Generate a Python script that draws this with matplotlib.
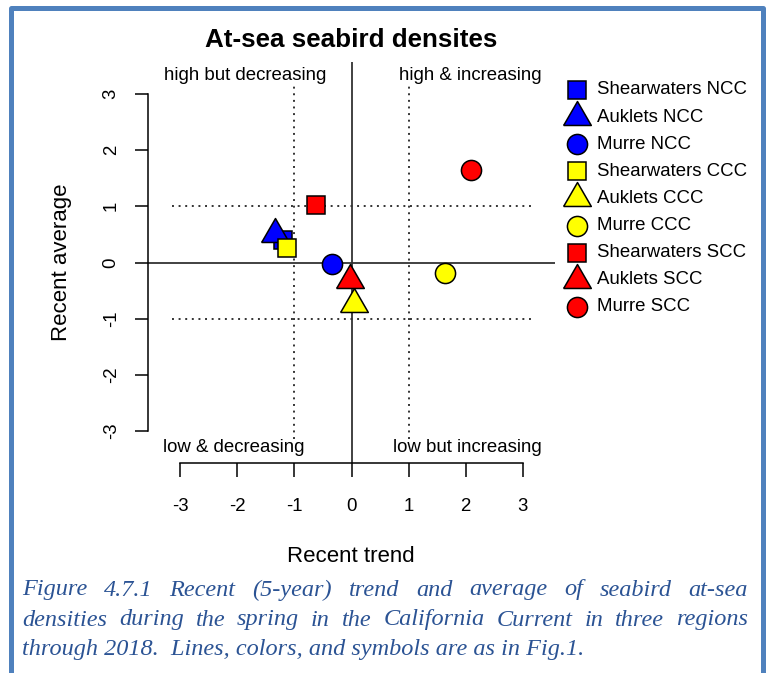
import matplotlib
matplotlib.use("Agg")
import matplotlib.pyplot as plt
from matplotlib.lines import Line2D

W, H = 770, 673
plt.rcParams['font.family'] = ['Liberation Sans', 'DejaVu Sans']

# recent trend (x) and recent average (y) for each group
labels = ['Shearwaters NCC', 'Auklets NCC', 'Murre NCC',
          'Shearwaters CCC', 'Auklets CCC', 'Murre CCC',
          'Shearwaters SCC', 'Auklets SCC', 'Murre SCC']
trend = [-1.20, -1.35, -0.34, -1.13, 0.05, 1.64, -0.63, -0.03, 2.09]
average = [0.40, 0.51, -0.02, 0.26, -0.74, -0.19, 1.02, -0.32, 1.65]
colors = ['blue'] * 3 + ['yellow'] * 3 + ['red'] * 3
shapes = ['square', 'triangle', 'circle'] * 3

ticks = [-3, -2, -1, 0, 1, 2, 3]
quadrants = [('high but decreasing', -1.86, 3.33),
             ('high & increasing', 2.09, 3.33),
             ('low & decreasing', -2.07, -3.30),
             ('low but increasing', 2.04, -3.30)]

caption = ["Figure 4.7.1 Recent (5-year) trend and average of seabird at-sea",
           "densities during the spring in the California Current in three regions",
           "through 2018.  Lines, colors, and symbols are as in Fig.1."]

# equilateral triangle like R's pch 24
tri = [(-1, -0.577), (1, -0.577), (0, 1.155), (-1, -0.577)]
marker_style = {'square': dict(marker='s', ms=13),
                'triangle': dict(marker=tri, ms=23),
                'circle': dict(marker='o', ms=14.5)}

fig = plt.figure(figsize=(W / 100, H / 100), dpi=100)
ax = fig.add_axes([148 / W, 1 - 463 / H, 407 / W, 401 / H])
ax.set_xlim(-3.57, 3.57)
ax.set_ylim(-3.57, 3.57)

# reference lines
ax.axhline(0, color='#333333', lw=1.3, zorder=1)
ax.axvline(0, color='#333333', lw=1.3, zorder=1)
dots = (0, (1, 2.4))
for v in (-1, 1):
    ax.plot([-3.15, 3.15], [v, v], ls=dots, color='#333333', lw=1.4, zorder=1)
    ax.plot([v, v], [-3.15, 3.15], ls=dots, color='#333333', lw=1.4, zorder=1)

for x, y, c, s in zip(trend, average, colors, shapes):
    ax.plot(x, y, ls='none', mfc=c, mec='black', mew=1.1, zorder=3, **marker_style[s])

for txt, x, y in quadrants:
    ax.text(x, y, txt, ha='center', va='center', fontsize=13.4)

for side in ('top', 'right'):
    ax.spines[side].set_visible(False)
for side in ('bottom', 'left'):
    ax.spines[side].set_bounds(-3, 3)
    ax.spines[side].set_linewidth(1.1)
ax.set_xticks(ticks)
ax.set_yticks(ticks)
ax.set_xticklabels([str(t) for t in ticks])
ax.set_yticklabels([str(t) for t in ticks], rotation=90, va='center')
ax.tick_params(axis='x', length=10, width=1.1, pad=15, labelsize=13.4)
ax.tick_params(axis='y', length=9.4, width=1.1, pad=11, labelsize=13.4)

fig.text(351 / W, 1 - 40 / H, 'At-sea seabird densites', ha='center', va='center',
         fontsize=18.7, fontweight='bold')
fig.text(351 / W, 1 - 557 / H, 'Recent trend', ha='center', va='center', fontsize=16)
fig.text(62 / W, 1 - 262 / H, 'Recent average', ha='center', va='center',
         rotation=90, fontsize=16)

# legend outside the plot
lax = fig.add_axes([0, 0, 1, 1], facecolor='none')
lax.set_xlim(0, W)
lax.set_ylim(H, 0)
lax.axis('off')
for i, (lab, c, s) in enumerate(zip(labels, colors, shapes)):
    yy = 90 + 27.1 * i
    lax.plot(577, yy, ls='none', mfc=c, mec='black', mew=1.1, **marker_style[s])
    lax.text(597, yy, lab, ha='left', va='center', fontsize=13.4)

# page frame
frame = dict(color='#4f81bd', lw=3.6, solid_capstyle='butt')
lax.add_line(Line2D([11, 11, 763, 763], [H, 7.5, 7.5, H], **frame))

# justified caption
cap_kw = dict(family='Liberation Serif', style='italic', fontsize=17.5,
              color='#2b5394', va='center')
renderer = fig.canvas.get_renderer()
x0, x1 = 22, 748
for line, yy in zip(caption[:2], (590, 620)):
    words = line.split(' ')
    objs = [lax.text(0, yy, w, ha='left', **cap_kw) for w in words]
    widths = [o.get_window_extent(renderer).width for o in objs]
    gap = (x1 - x0 - sum(widths)) / (len(words) - 1)
    x = x0
    for o, w in zip(objs, widths):
        o.set_x(x)
        x += w + gap
lax.text(x0, 650, caption[2], ha='left', **cap_kw)

fig.savefig('out.png', dpi=100)
